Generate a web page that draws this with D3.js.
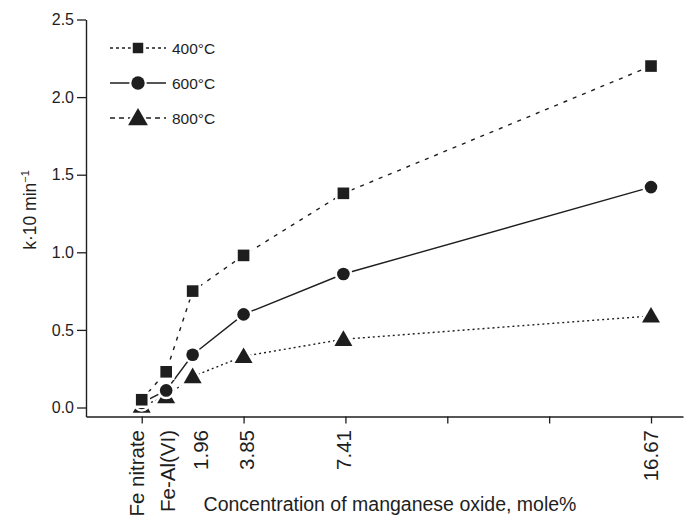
<!DOCTYPE html>
<html>
<head>
<meta charset="utf-8">
<script src="https://cdn.jsdelivr.net/npm/d3@7/dist/d3.min.js"></script>
<style>
  html, body { margin: 0; padding: 0; background: #fff; }
  svg { display: block; font-family: "Liberation Sans", Arial, Helvetica, sans-serif; }
</style>
</head>
<body>
<svg id="chart" width="686" height="518"></svg>
<script>
// Catalyst samples along the x axis and where each sits on the axis (axis units)
const categories = ["Fe nitrate", "Fe-Al(VI)", "1.96", "3.85", "7.41", "16.67"];
const categoryPos = [0, 0.24, 0.5, 1, 1.98, 5];

// Rate constants k·10 (min⁻¹) for each calcination temperature
const series400 = [0.05, 0.23, 0.75, 0.98, 1.38, 2.20];
const series600 = [0.03, 0.11, 0.34, 0.60, 0.86, 1.42];
const series800 = [0.01, 0.07, 0.20, 0.33, 0.44, 0.59];

const seriesNames = ["400°C", "600°C", "800°C"];
const yTicks = [0, 0.5, 1.0, 1.5, 2.0, 2.5];
const xTicks = [0, 1, 2, 3, 4, 5];

const svg = d3.select("#chart");
const ink = "#1e1e1e";

const x = d3.scaleLinear().domain([-0.547, 5.314]).range([86, 683]);
const y = d3.scaleLinear().domain([-0.058, 2.5]).range([416.5, 19.5]);

// Axes
const yAxis = svg.append("g")
  .attr("transform", "translate(86,0)")
  .call(d3.axisLeft(y).tickValues(yTicks).tickFormat(d3.format(".1f"))
    .tickSize(9).tickSizeOuter(0).tickPadding(3));
yAxis.selectAll("text").attr("font-size", 16).attr("fill", ink)
  .attr("font-family", "Liberation Sans, Arial, sans-serif");

const xAxis = svg.append("g")
  .attr("transform", "translate(0,416.5)")
  .call(d3.axisBottom(x).tickValues(xTicks).tickFormat("")
    .tickSize(7).tickSizeOuter(0));

[yAxis, xAxis].forEach(g => {
  g.select(".domain").attr("stroke", ink).attr("stroke-width", 1.4);
  g.selectAll(".tick line").attr("stroke", ink).attr("stroke-width", 1.3);
});

// Category labels below the x axis, rotated
const labelNudge = [-5, 1, 8, 3, 0, 0];
svg.append("g").selectAll("text")
  .data(categories)
  .join("text")
  .attr("transform", (d, i) => `translate(${x(categoryPos[i]) + labelNudge[i]},430) rotate(-90)`)
  .attr("text-anchor", "end")
  .attr("dy", "0.36em")
  .attr("font-size", 20.5)
  .attr("fill", ink)
  .text(d => d);

// Axis titles
svg.append("text")
  .attr("x", 390).attr("y", 511)
  .attr("text-anchor", "middle")
  .attr("font-size", 19.5)
  .attr("fill", ink)
  .text("Concentration of manganese oxide, mole%");

const yTitle = svg.append("text")
  .attr("transform", "translate(36,210) rotate(-90)")
  .attr("text-anchor", "middle")
  .attr("font-size", 17.5)
  .attr("fill", ink);
yTitle.append("tspan").text("k·10 min");
yTitle.append("tspan").attr("dy", "-0.6em").attr("font-size", 11).text("−1");

// Series styling
const seriesData = [series400, series600, series800];
const dashes = ["4,6", null, "2,3"];
const legendDashes = ["3,3", null, "5,4"];
const shapes = [d3.symbolSquare, d3.symbolCircle, d3.symbolTriangle];
const sizes = [135, 125, 140];
const legendSizes = [110, 140, 170];

const line = d3.line()
  .x((d, i) => x(categoryPos[i]))
  .y(d => y(d));

// Lines first, then markers with a white halo so lines stop short of them
const lineG = svg.append("g");
seriesData.forEach((vals, s) => {
  lineG.append("path")
    .datum(vals)
    .attr("d", line)
    .attr("fill", "none")
    .attr("stroke", ink)
    .attr("stroke-width", 1.4)
    .attr("stroke-dasharray", dashes[s]);
});

const markG = svg.append("g");
[2, 1, 0].forEach(s => {
  markG.selectAll(null)
    .data(seriesData[s])
    .join("path")
    .attr("transform", (d, i) => `translate(${x(categoryPos[i])},${y(d) + (s === 2 ? 1.5 : 0)})`)
    .attr("d", d3.symbol(shapes[s], sizes[s]))
    .attr("fill", ink)
    .attr("stroke", "#fff")
    .attr("stroke-width", 5)
    .attr("paint-order", "stroke");
});

// Legend
const legendY = [48, 83, 118];
const legend = svg.append("g");
seriesNames.forEach((name, s) => {
  const row = legend.append("g").attr("transform", `translate(0,${legendY[s]})`);
  row.append("line")
    .attr("x1", 110).attr("x2", 166).attr("y1", 0).attr("y2", 0)
    .attr("stroke", ink).attr("stroke-width", 1.3)
    .attr("stroke-dasharray", legendDashes[s]);
  row.append("path")
    .attr("transform", `translate(138,${s === 2 ? 1.5 : 0})`)
    .attr("d", d3.symbol(shapes[s], legendSizes[s]))
    .attr("fill", ink)
    .attr("stroke", "#fff")
    .attr("stroke-width", 4)
    .attr("paint-order", "stroke");
  row.append("text")
    .attr("x", 172).attr("y", 5.5)
    .attr("font-size", 15.5)
    .attr("fill", ink)
    .text(name);
});
</script>
</body>
</html>
